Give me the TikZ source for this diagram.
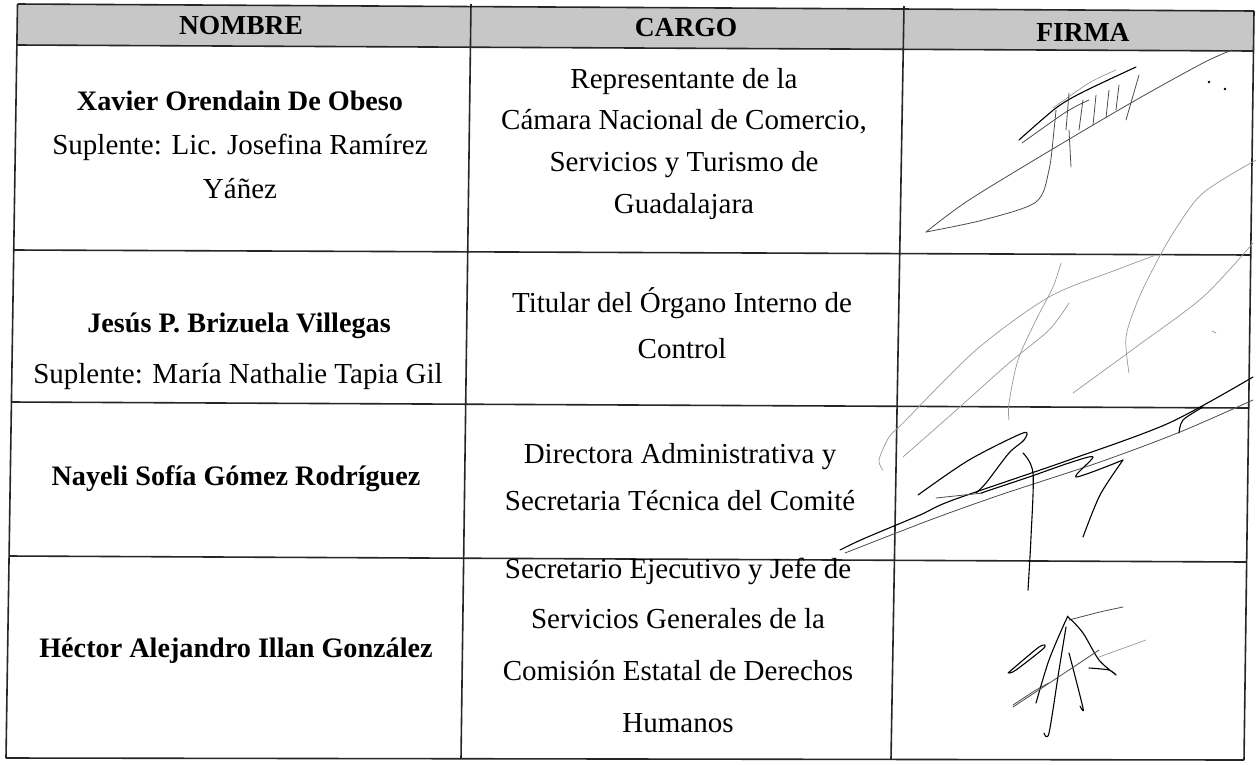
\documentclass[tikz,border=0pt]{standalone}
\usepackage{fontspec}
\setmainfont{Liberation Serif}
\begin{document}
\begin{tikzpicture}[x=1pt,y=-1pt,
  grid/.style={line width=1.6pt, draw=black!85},
  hdr/.style={font=\fontsize{27.5}{30}\selectfont\bfseries, anchor=base, inner sep=0pt},
  nm/.style={font=\fontsize{28.2}{30}\selectfont\bfseries, anchor=base, inner sep=0pt},
  tx/.style={font=\fontsize{29}{30}\selectfont, anchor=base, inner sep=0pt},
  sig/.style={line width=1.1pt, draw=black, line cap=round, line join=round},
  sigm/.style={line width=0.8pt, draw=black!70, line cap=round, line join=round},
  faint/.style={line width=0.7pt, draw=black!40, line cap=round, line join=round}]
\useasboundingbox (0,0) rectangle (1256,764);
\fill[white] (0,0) rectangle (1256,764);
% header band
\fill[black!22] (17.5,4) -- (1254,11) -- (1253,51) -- (17,45) -- cycle;
% grid lines
\draw[grid] (17.5,4) -- (1254,11);
\draw[grid] (17,45) -- (1253,51);
\draw[grid] (13.7,250) -- (1250.6,255);
\draw[grid] (11.4,402) -- (1248.6,408);
\draw[grid] (9,556) -- (1246.5,562);
\draw[grid] (6,758) -- (1244,760);
\draw[grid] (17.5,4) -- (6,758);
\draw[grid] (471,4) -- (461,759);
\draw[grid] (904,6) -- (891,759);
\draw[grid] (1254,11) -- (1244,760);
% header
\node[hdr] (hn) at (241,34) {NOMBRE};
\node[hdr] (hc) at (686,36) {CARGO};
\node[hdr] (hf) at (1083,41) {FIRMA};
% row 1
\node[nm] (n1a) at (240,110) {Xavier Orendain De Obeso};
\node[tx] (n1b) at (240,154) {Suplente: Lic. Josefina Ramírez};
\node[tx] (n1c) at (240,198) {Yáñez};
\node[tx] (c1a) at (684,88) {Representante de la};
\node[tx] (c1b) at (684,129) {Cámara Nacional de Comercio,};
\node[tx] (c1c) at (684,171) {Servicios y Turismo de};
\node[tx] (c1d) at (684,213) {Guadalajara};
% row 2
\node[nm] (n2a) at (239,332) {Jesús P. Brizuela Villegas};
\node[tx] (n2b) at (238,383) {Suplente: María Nathalie Tapia Gil};
\node[tx] (c2a) at (682,312) {Titular del Órgano Interno de};
\node[tx] (c2b) at (682,358) {Control};
% row 3
\node[nm] (n3a) at (236,485) {Nayeli Sofía Gómez Rodríguez};
\node[tx] (c3a) at (680,463) {Directora Administrativa y};
\node[tx] (c3b) at (680,510) {Secretaria Técnica del Comité};
% row 4
\node[nm] (n4a) at (236,657) {Héctor Alejandro Illan González};
\node[tx] (c4a) at (678,578) {Secretario Ejecutivo y Jefe de};
\node[tx] (c4b) at (678,628) {Servicios Generales de la};
\node[tx] (c4c) at (678,680) {Comisión Estatal de Derechos};
\node[tx] (c4d) at (678,732) {Humanos};
% ---------- signature 1
\draw[sigm] plot[smooth] coordinates {(926,232) (969,200) (1056,147) (1136,100) (1203,63) (1232,50)};
\draw[sigm] plot[smooth] coordinates {(926,232) (983,220) (1036,202) (1049,170) (1054,130) (1056,110)};
\draw[sig] plot[smooth] coordinates {(1019,140) (1056,108) (1083,92) (1136,67)};
\draw[sigm] plot[smooth] coordinates {(1022,143) (1066,112) (1089,100)};
\draw[faint] plot[smooth] coordinates {(1053,108) (1089,83) (1116,70)};
\draw[sigm] (1069,93) -- (1066,130);
\draw[sigm] (1083,100) -- (1079,130);
\draw[sigm] (1096,95) -- (1093,125);
\draw[sigm] (1109,90) -- (1106,118);
\draw[sigm] (1119,85) -- (1116,110);
\draw[sigm] (1139,75) -- (1126,120);
\draw[sigm] (1069,130) -- (1071,167);
\fill[black] (1209,82) circle (1.3);
\fill[black] (1225,89) circle (1.3);
\draw[faint] plot[smooth] coordinates {(1256,160) (1203,193) (1175,230) (1155,265) (1138,300) (1126,337) (1129,373)};
% ---------- signature 2
\draw[faint] plot[smooth] coordinates {(1061,263) (1053,287) (1036,320) (1018,360) (1009,403) (1009,420)};
\draw[faint] plot[smooth] coordinates {(883,470) (879,460) (889,437) (903,423) (976,350) (1049,297) (1116,270) (1156,255)};
\draw[faint] plot[smooth] coordinates {(903,457) (953,413) (1009,363) (1049,330) (1069,303)};
\draw[faint] plot[smooth] coordinates {(1073,393) (1136,347) (1203,297) (1253,243)};
\draw[faint] (1212,331) -- (1216,333);
% ---------- signature 3
\draw[sig] plot[smooth] coordinates {(840,550) (863,539) (920,515) (953,500) (1069,460) (1169,423) (1253,377)};
\draw[sigm] plot[smooth] coordinates {(845,553) (930,520) (1000,495) (1100,462) (1180,432) (1253,400)};
\draw[sig] plot[smooth] coordinates {(918,495) (969,460) (1023,433) (1024,440) (1009,453) (986,483) (976,493)};
\draw[sig] plot[smooth] coordinates {(1023,453) (1033,473) (1031,537) (1028,590)};
\draw[sig] plot[smooth] coordinates {(981,493) (1029,477) (1069,463) (1093,457) (1076,477) (1123,460)};
\draw[sig] plot[smooth] coordinates {(1123,460) (1100,495) (1083,537)};
\draw[sig] plot[smooth] coordinates {(1179,433) (1183,420) (1203,407)};
\draw[sigm] (936,498) -- (983,493);
% ---------- signature 4
\draw[sigm] plot[smooth] coordinates {(1069,620) (1100,612) (1123,607)};
\draw[faint] (1099,657) -- (1146,640);
\draw[sig] plot[smooth] coordinates {(1008,673) (1039,647) (1044,648) (1016,670) (1009,673)};
\draw[sigm] plot[smooth] coordinates {(1013,705) (1036,690) (1049,683)};
\draw[sig] plot[smooth] coordinates {(1066,627) (1059,670) (1049,733) (1044,733)};
\draw[sig] plot[smooth] coordinates {(1069,653) (1083,708) (1080,706)};
\draw[sig] plot[smooth] coordinates {(1036,703) (1049,660) (1066,620) (1069,618) (1083,633) (1099,660) (1116,675) (1109,670) (1089,668)};
\draw[sigm] plot[smooth] coordinates {(1013,707) (1069,670) (1099,650)};
\end{tikzpicture}
\end{document}
